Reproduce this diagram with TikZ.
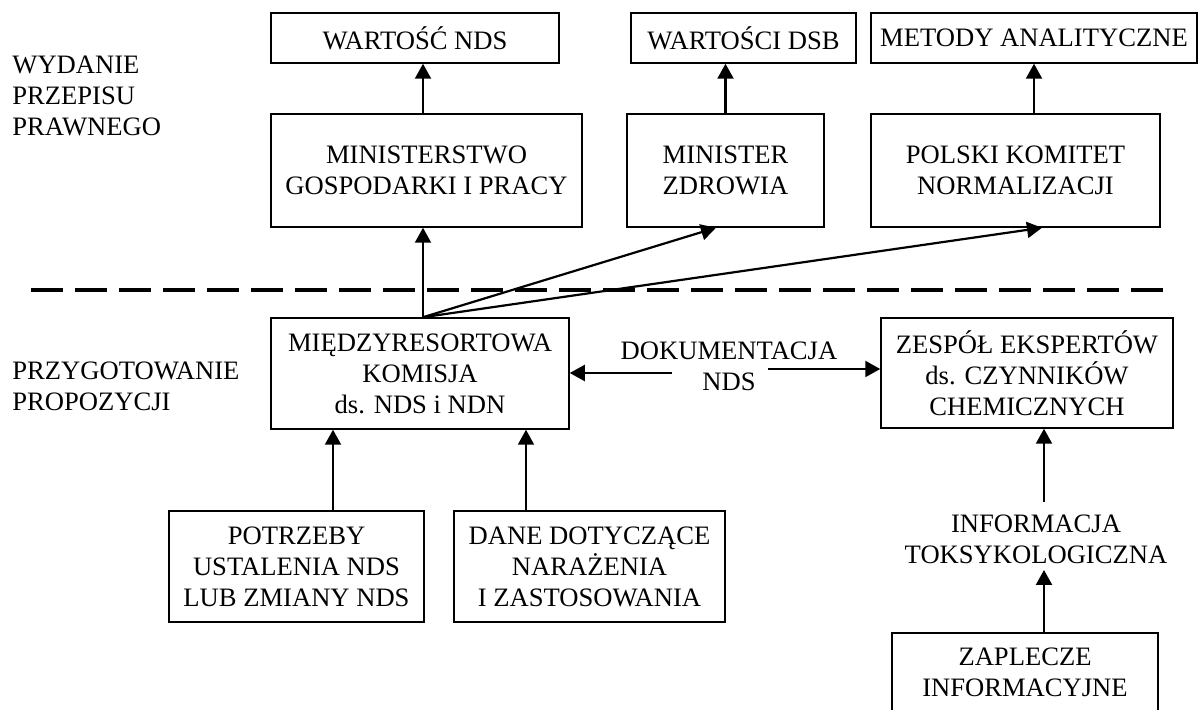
\documentclass[tikz,border=0pt]{standalone}
\usepackage{fontspec}
\setmainfont{Liberation Serif}
\usetikzlibrary{arrows.meta}

\newcommand*{\txtfont}{\fontsize{13.3}{15.5}\selectfont}

\begin{document}
\begin{tikzpicture}
[
	x=0.5pt,
	y=-0.5pt,
	box/.style={draw,line width=0.75pt,inner sep=0pt,align=center,font=\txtfont},
	lbl/.style={inner sep=0pt,font=\txtfont},
	arr/.style={-{Triangle[length=7.5pt,width=8pt]},line width=1.1pt},
	cut/.style={line width=2pt,dash pattern=on 16pt off 6pt}
]
	\useasboundingbox (0,0) rectangle (1200,710);

	% stage labels
	\node[lbl,align=left,anchor=west] (wyd) at (12,96) {WYDANIE\\PRZEPISU\\PRAWNEGO};
	\node[lbl,align=left,anchor=west] (przy) at (12,386) {PRZYGOTOWANIE\\PROPOZYCJI};

	% top row
	\node[box,minimum width=144pt,minimum height=25pt] (wnds) at (415,38) {WARTOŚĆ NDS};
	\node[box,minimum width=112.5pt,minimum height=25pt] (wdsb) at (743.5,38) {WARTOŚCI DSB};
	\node[box,minimum width=163pt,minimum height=25pt] (metody) at (1034,38) {METODY ANALITYCZNE};

	% institutions
	\node[box,minimum width=155.5pt,minimum height=56.5pt] (mgip) at (426.5,170.5) {MINISTERSTWO\\GOSPODARKI I PRACY};
	\node[box,minimum width=98.5pt,minimum height=56.5pt] (mz) at (725.5,170.5) {MINISTER\\ZDROWIA};
	\node[box,minimum width=144.5pt,minimum height=56.5pt] (pkn) at (1015.5,170.5) {POLSKI KOMITET\\NORMALIZACJI};

	\coordinate (axis) at (423,0);
	\draw[arr] (axis |- mgip.north) -- (axis |- wnds.south);
	\draw[arr] (mz.north) -- (mz.north |- wdsb.south);
	\draw[arr] (metody.south |- pkn.north) -- (metody.south);

	% border between stages
	\draw[cut] (31,290) -- (1163,290);

	% preparation
	\node[box,minimum width=149pt,minimum height=55.5pt] (mk) at (420,373.5) {MIĘDZYRESORTOWA\\KOMISJA\\ds. NDS i NDN};
	\node[box,minimum width=146pt,minimum height=55pt] (zespol) at (1027,373) {ZESPÓŁ EKSPERTÓW\\ds. CZYNNIKÓW\\CHEMICZNYCH};
	\node[lbl,align=center] (doc) at (729,366) {DOKUMENTACJA\\NDS};
	\coordinate (docl) at (672,373);
	\coordinate (docr) at (768,369);
	\draw[arr] (docl) -- (docl -| mk.east);
	\draw[arr] (docr) -- (docr -| zespol.west);

	\draw[arr] (axis |- mk.north) -- (axis |- mgip.south);
	\draw[arr] (axis |- mk.north) -- ([xshift=-4.75pt]mz.south);
	\draw[arr] (axis |- mk.north) -- ([xshift=13.25pt]pkn.south);

	% inputs
	\node[box,minimum width=127.5pt,minimum height=55.5pt] (potrz) at (296.5,566.5) {POTRZEBY\\USTALENIA NDS\\LUB ZMIANY NDS};
	\node[box,minimum width=135.5pt,minimum height=55.5pt] (dane) at (589.5,566.5) {DANE DOTYCZĄCE\\NARAŻENIA\\I ZASTOSOWANIA};
	\draw[arr] ([xshift=18.25pt]potrz.north) -- ([xshift=18.25pt]potrz.north |- mk.south);
	\draw[arr] ([xshift=-31.75pt]dane.north) -- ([xshift=-31.75pt]dane.north |- mk.south);

	\node[lbl,align=center] (tox) at (1036,539) {INFORMACJA\\TOKSYKOLOGICZNA};
	\node[box,minimum width=133pt,minimum height=39.5pt] (zap) at (1025,672.5) {ZAPLECZE\\INFORMACYJNE};
	\coordinate (toxt) at (1044,502);
	\coordinate (toxb) at (1044,570);
	\draw[arr] (toxt) -- (toxt |- zespol.south);
	\draw[arr] (toxb |- zap.north) -- (toxb);

\end{tikzpicture}
\end{document}
